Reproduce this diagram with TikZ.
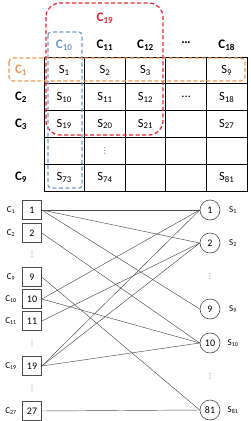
\documentclass[tikz,border=0pt]{standalone}
\usepackage{fontspec}
\setmainfont{Carlito}
\newfontfamily\dotfont{DejaVu Sans}
\usetikzlibrary{positioning}
\definecolor{blockred}{RGB}{230,35,45}
\definecolor{colblue}{RGB}{110,155,210}
\definecolor{roworange}{RGB}{240,150,80}
\newcommand{\Sv}[1]{S\textsubscript{#1}}
\newcommand{\Cv}[1]{C\textsubscript{#1}}
\newcommand{\vdotsym}{{\dotfont ⋮}}
\tikzset{
  grid cell/.style={draw,line width=1pt,minimum width=40.6pt,minimum height=26.8pt,inner sep=0pt,font=\fontsize{12.5}{13}\selectfont},
  head label/.style={font=\bfseries\fontsize{13}{14}\selectfont},
  set node/.style={draw=black!70,line width=0.6pt,minimum size=19pt,inner sep=0pt,font=\fontsize{10}{11}\selectfont},
  elem node/.style={circle,draw=black!70,line width=0.6pt,minimum size=20pt,inner sep=0pt,font=\fontsize{10}{11}\selectfont},
  side label/.style={font=\fontsize{9}{10}\selectfont},
  link/.style={black!70,line width=0.45pt},
  more dots/.style={font=\fontsize{7}{8}\selectfont,text=black!65,inner sep=0pt},
  cover box/.style={dash pattern=on 4pt off 2.5pt,line width=1.2pt},
}

\begin{document}
\begin{tikzpicture}[x=1pt,y=-1pt]
  \useasboundingbox (0,0) rectangle (250,421);
  % the grid
  \foreach \c/\x/\t in {1/64.3/\Sv{1},2/104.9/\Sv{2},3/145.5/\Sv{3},4/186.1/,5/226.7/\Sv{9}}
    \node[grid cell] (g1\c) at (\x,70.4) {\t};
  \foreach \c/\x/\t in {1/64.3/\Sv{10},2/104.9/\Sv{11},3/145.5/\Sv{12},4/186.1/\dots,5/226.7/\Sv{18}}
    \node[grid cell] (g2\c) at (\x,97.2) {\t};
  \foreach \c/\x/\t in {1/64.3/\Sv{19},2/104.9/\Sv{20},3/145.5/\Sv{21},4/186.1/,5/226.7/\Sv{27}}
    \node[grid cell] (g3\c) at (\x,124) {\t};
  \foreach \c/\x in {1/64.3,2/104.9,3/145.5,4/186.1,5/226.7}
    \node[grid cell] (g4\c) at (\x,150.8) {};
  \foreach \c/\x/\t in {1/64.3/\Sv{73},2/104.9/\Sv{74},3/145.5/,4/186.1/,5/226.7/\Sv{81}}
    \node[grid cell] (g5\c) at (\x,177.6) {\t};
  \node[more dots,font=\fontsize{8}{9}\selectfont] (gd) at (g42) {\vdotsym};
  % headers
  \node[head label,text=colblue] (h1) at (64.3,45) {\Cv{10}};
  \node[head label] (h2) at (104.9,45) {\Cv{11}};
  \node[head label] (h3) at (145.5,45) {\Cv{12}};
  \node[head label] (h4) at (186.1,43) {\dots};
  \node[head label] (h5) at (226.7,45) {\Cv{18}};
  \node[head label,text=roworange] (r1) at (21,70.4) {\Cv{1}};
  \node[head label] (r2) at (21,97.2) {\Cv{2}};
  \node[head label] (r3) at (21,124) {\Cv{3}};
  \node[head label] (r5) at (21,177.6) {\Cv{9}};
  \node[head label,text=blockred] (blk) at (105,18) {\Cv{19}};
  % covering sets
  \draw[cover box,blockred,rounded corners=14pt] (46,3) rectangle (163,135);
  \draw[cover box,colblue,rounded corners=3pt] (48,32) rectangle (82,188);
  \draw[cover box,roworange,rounded corners=4pt] (9,58) rectangle (245,81);
  % bipartite graph
  \foreach \i/\y in {1/210,2/233,9/277,10/299,11/321,19/366,27/411}{
    \node[set node] (b\i) at (32,\y) {\i};
    \node[side label] (lb\i) at (11,\y) {\Cv{\i}};
  }
  \foreach \i/\y in {1/210,2/243,9/309,10/343,81/410}{
    \node[elem node] (s\i) at (210,\y) {\i};
    \node[side label] (ls\i) at (233,\y) {\Sv{\i}};
  }
  \node[more dots] (d1) at (32,254) {\vdotsym};
  \node[more dots] (d2) at (32,343) {\vdotsym};
  \node[more dots] (d3) at (32,388) {\vdotsym};
  \node[more dots] (d4) at (210,276) {\vdotsym};
  \node[more dots] (d5) at (210,376) {\vdotsym};
  \foreach \a/\b in {1/1,1/2,1/9,2/10,9/81,10/1,10/10,11/2,19/1,19/2,19/10,27/81}
    \draw[link] (b\a.east) -- (s\b.west);
\end{tikzpicture}
\end{document}
